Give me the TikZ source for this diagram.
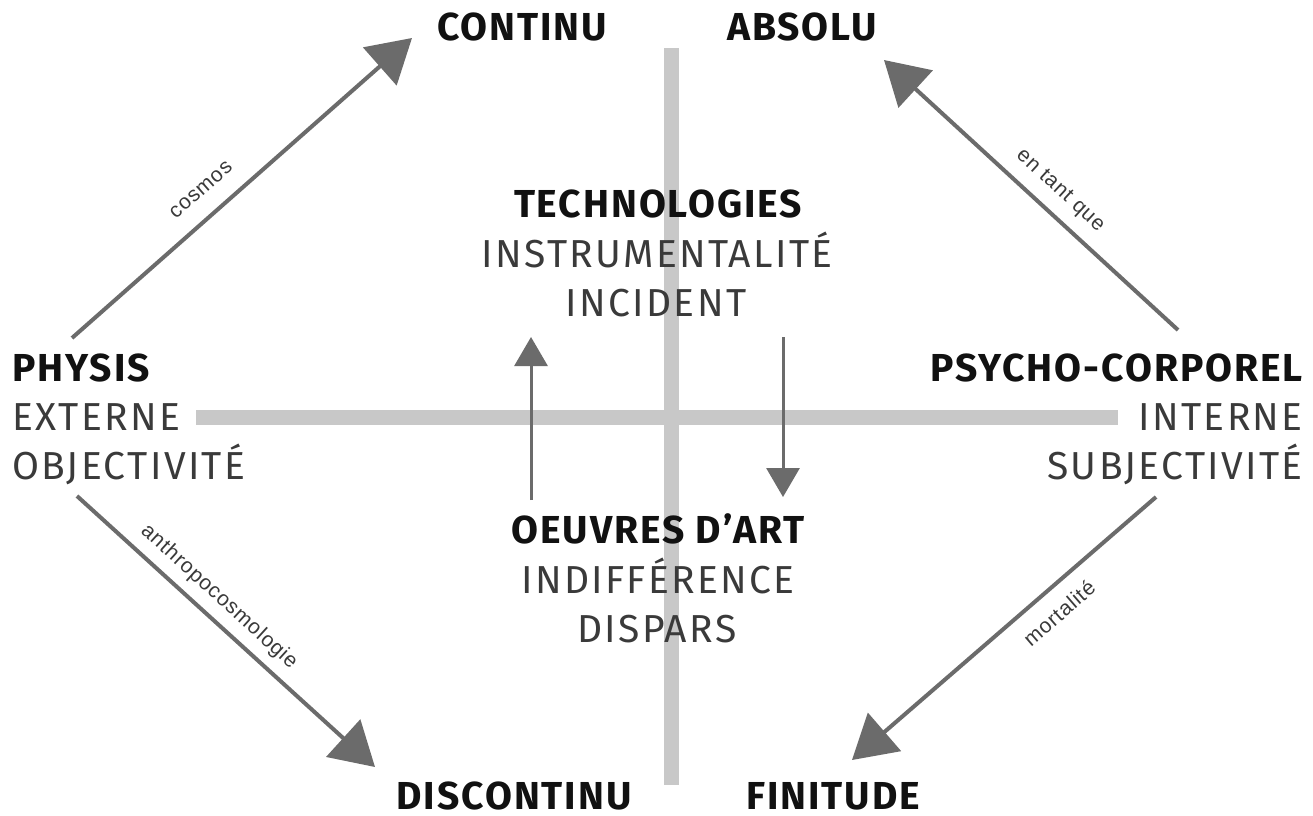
\documentclass[tikz,border=0pt]{standalone}
\usepackage{fontspec}
\setmainfont{Fira Sans}
\newfontfamily\hdfont[LetterSpace=5]{Fira Sans}
\newfontfamily\subfont[LetterSpace=6]{Fira Sans}
\newfontfamily\lblfont[LetterSpace=4]{Liberation Sans}
\usetikzlibrary{arrows.meta}
\definecolor{barc}{HTML}{C8C8C8}
\definecolor{arrc}{HTML}{6B6B6B}
\definecolor{txtreg}{HTML}{3A3A3A}
\definecolor{txtbold}{HTML}{111111}
\begin{document}
\begin{tikzpicture}[x=1pt,y=-1pt,
  barline/.style={draw=barc,line width=15pt},
  bigarr/.style={draw=arrc,line width=4pt,-{Triangle[length=43pt,width=50pt]}},
  smallarr/.style={draw=arrc,line width=3pt,-{Triangle[length=29pt,width=33pt]}},
  hd/.style={font=\hdfont\fontsize{39}{39}\selectfont\bfseries,text=txtbold,inner sep=0pt},
  sub/.style={font=\subfont\fontsize{39}{39}\selectfont,text=txtreg,inner sep=0pt},
  lbl/.style={font=\lblfont\fontsize{21}{21}\selectfont,text=txtreg,inner sep=0pt}]
\useasboundingbox[fill=white] (0,0) rectangle (1313,815);

% axes
\coordinate (vt) at (671,48);
\coordinate (vb) at (671,785);
\coordinate (hl) at (196,417);
\coordinate (hr) at (1118,417);
\draw[barline] (vt) -- (vb);
\draw[barline] (hl) -- (hr);

% corner words
\node[hd,anchor=base] (continu) at (522,40) {CONTINU};
\node[hd,anchor=base] (absolu) at (802,40) {ABSOLU};
\node[hd,anchor=base] (discontinu) at (514,809) {DISCONTINU};
\node[hd,anchor=base] (finitude) at (833,809) {FINITUDE};

% centre blocks
\node[hd,anchor=base] (tech) at (658,217) {TECHNOLOGIES};
\node[sub,anchor=base] (instr) at (657,267) {INSTRUMENTALITÉ};
\node[sub,anchor=base] (incid) at (656,316) {INCIDENT};
\node[hd,anchor=base] (oeuvres) at (658,543) {OEUVRES D’ART};
\node[sub,anchor=base] (indiff) at (658,593) {INDIFFÉRENCE};
\node[sub,anchor=base] (dispars) at (657,642) {DISPARS};

% left block
\node[hd,anchor=base west] (physis) at (12,381) {PHYSIS};
\node[sub,anchor=base west] (externe) at (12,430) {EXTERNE};
\node[sub,anchor=base west] (objec) at (12,479) {OBJECTIVITÉ};

% right block
\node[hd,anchor=base east] (psycho) at (1303,381) {PSYCHO-CORPOREL};
\node[sub,anchor=base east] (interne) at (1303,430) {INTERNE};
\node[sub,anchor=base east] (subj) at (1303,479) {SUBJECTIVITÉ};

% arrow ends
\coordinate (c1) at (72,338);   \coordinate (c2) at (412,38);
\coordinate (e1) at (1178,330); \coordinate (e2) at (884,60);
\coordinate (a1) at (77,496);   \coordinate (a2) at (375,767);
\coordinate (m1) at (1156,497); \coordinate (m2) at (852,760);
\coordinate (u1) at (531,500);  \coordinate (u2) at (531,337);
\coordinate (d1) at (783,337);  \coordinate (d2) at (783,497);

\draw[bigarr] (c1) -- (c2);
\draw[bigarr] (e1) -- (e2);
\draw[bigarr] (a1) -- (a2);
\draw[bigarr] (m1) -- (m2);
\draw[smallarr] (u1) -- (u2);
\draw[smallarr] (d1) -- (d2);

% arrow labels
\node[lbl,rotate=41.4] (lcos) at (201,190) {cosmos};
\node[lbl,rotate=-42.6] (lent) at (1060,191) {en tant que};
\node[lbl,rotate=-42.3] (lant) at (219,597) {anthropocosmologie};
\node[lbl,rotate=40.9] (lmor) at (1059,613) {mortalité};
\end{tikzpicture}
\end{document}
